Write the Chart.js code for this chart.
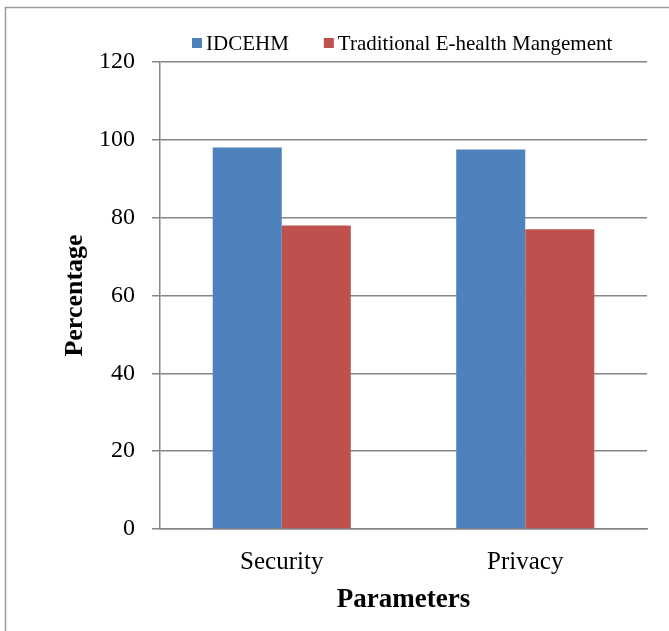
<!DOCTYPE html>
<html lang="en">
<head>
    <meta charset="UTF-8">
    <title>Security and Privacy</title>
    <script src="https://cdn.jsdelivr.net/npm/chart.js"></script>
    <style>
        body { margin: 0; background: #fff; }
        #chart { display: block; }
    </style>
</head>
<body>
    <canvas id="chart" width="669" height="631"></canvas>

    <script>
        // chart data
        const categories = ['Security', 'Privacy'];
        const idcehm = [98, 97.5];
        const traditional = [78, 77];
        const seriesNames = ['IDCEHM', 'Traditional E-health Mangement'];
        const yTicks = [0, 20, 40, 60, 80, 100, 120];

        const serif = "'Liberation Serif', 'Times New Roman', serif";
        const gridGrey = '#858585';

        // light frame around the picture (left and top edges only)
        const framePlugin = {
            id: 'frame',
            beforeDraw(chart) {
                const ctx = chart.ctx;
                ctx.save();
                ctx.strokeStyle = '#9a9a9a';
                ctx.lineWidth = 1.5;
                ctx.beginPath();
                ctx.moveTo(5.5, 640);
                ctx.lineTo(5.5, 7.5);
                ctx.lineTo(669, 7.5);
                ctx.stroke();
                ctx.restore();
            }
        };

        // legend drawn at the top, like the Excel one
        const legendPlugin = {
            id: 'topLegend',
            afterDraw(chart) {
                const ctx = chart.ctx;
                ctx.save();
                ctx.font = '21px ' + serif;
                ctx.textBaseline = 'middle';
                let x = 192;
                const y = 43;
                chart.data.datasets.forEach(ds => {
                    ctx.fillStyle = ds.backgroundColor;
                    ctx.fillRect(x, y - 5, 10, 10);
                    x += 14;
                    ctx.fillStyle = '#000';
                    ctx.fillText(ds.label, x, y + 1);
                    x += ctx.measureText(ds.label).width + 35;
                });
                ctx.restore();
            }
        };

        const ctx = document.getElementById('chart').getContext('2d');
        new Chart(ctx, {
            type: 'bar',
            data: {
                labels: categories,
                datasets: [
                    { label: seriesNames[0], data: idcehm, backgroundColor: '#4F81BD' },
                    { label: seriesNames[1], data: traditional, backgroundColor: '#C0504D' }
                ]
            },
            options: {
                responsive: false,
                animation: false,
                layout: { padding: { top: 62, right: 22, bottom: 0, left: 0 } },
                datasets: {
                    bar: { categoryPercentage: 0.567, barPercentage: 1.0 }
                },
                plugins: {
                    legend: { display: false },
                    tooltip: { enabled: false }
                },
                scales: {
                    x: {
                        grid: { display: false },
                        border: { display: true, color: gridGrey, width: 1.5 },
                        ticks: { color: '#000', font: { family: serif, size: 25 }, padding: 10 },
                        title: {
                            display: true,
                            text: 'Parameters',
                            color: '#000',
                            font: { family: serif, size: 27, weight: 'bold' },
                            padding: { top: 0, bottom: 15 }
                        },
                        afterFit: scale => { scale.height = 102; }
                    },
                    y: {
                        min: 0,
                        max: 120,
                        afterBuildTicks: scale => { scale.ticks = yTicks.map(v => ({ value: v })); },
                        grid: { color: gridGrey, lineWidth: 1.5, tickLength: 8, drawTicks: true },
                        border: { display: true, color: gridGrey, width: 1.5 },
                        ticks: { color: '#000', font: { family: serif, size: 24 }, padding: 17 },
                        title: {
                            display: true,
                            text: 'Percentage',
                            color: '#000',
                            font: { family: serif, size: 26, weight: 'bold' },
                            padding: { top: 60, bottom: 0 }
                        },
                        afterFit: scale => { scale.width = 160; }
                    }
                }
            },
            plugins: [framePlugin, legendPlugin]
        });
    </script>
</body>
</html>
